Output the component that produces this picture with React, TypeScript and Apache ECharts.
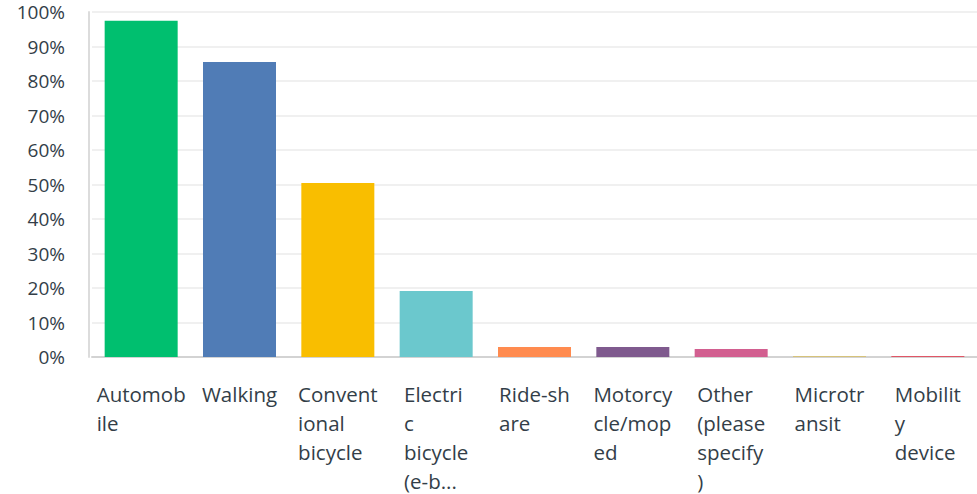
import React, { useEffect, useRef } from "react";
import * as echarts from "echarts";

const categories = [
  "Automobile",
  "Walking",
  "Conventional bicycle",
  "Electric bicycle (e-bike)",
  "Ride-share",
  "Motorcycle/moped",
  "Other (please specify)",
  "Microtransit",
  "Mobility device",
];
const tickLabels = [
  "Automob\nile",
  "Walking",
  "Convent\nional\nbicycle",
  "Electri\nc\nbicycle\n(e-b...",
  "Ride-sh\nare",
  "Motorcy\ncle/mop\ned",
  "Other\n(please\nspecify\n)",
  "Microtr\nansit",
  "Mobilit\ny\ndevice",
];
const values = [97.5, 85.5, 50.4, 19.1, 2.9, 2.9, 2.3, 0.3, 0.3];
const colors = [
  "#00bf6f",
  "#507cb6",
  "#f9be00",
  "#6bc8cd",
  "#ff8b4f",
  "#7f5a8e",
  "#d25f90",
  "#d6c27a",
  "#e05666",
];
const yTicks = [0, 10, 20, 30, 40, 50, 60, 70, 80, 90, 100];

export default function App() {
  const ref = useRef<HTMLDivElement>(null);
  useEffect(() => {
    if (!ref.current) return;
    const chart = echarts.init(ref.current, null, { renderer: "svg" });
    const font = "'Open Sans', sans-serif";
    chart.setOption({
      animation: false,
      grid: { left: 92, right: -3, top: 12, bottom: 137, containLabel: false },
      xAxis: {
        type: "category",
        data: categories,
        axisTick: { show: false },
        axisLine: { lineStyle: { color: "#d3d3d3", width: 2 } },
        axisLabel: {
          interval: 0,
          margin: 22,
          align: "center",
          formatter: (_v: string, i: number) => "{a|" + tickLabels[i] + "}",
          rich: {
            a: {
              align: "left",
              fontSize: 20.5,
              lineHeight: 29,
              color: "#333e48",
              fontFamily: font,
            },
          },
        },
      },
      yAxis: {
        type: "value",
        min: yTicks[0],
        max: yTicks[yTicks.length - 1],
        interval: 10,
        offset: 3,
        axisLine: { show: true, lineStyle: { color: "#dcdcdc", width: 2 } },
        axisTick: { show: false },
        splitLine: { lineStyle: { color: "#ebebeb", width: 1.5 } },
        axisLabel: {
          formatter: "{value}%",
          fontSize: 19,
          color: "#333e48",
          fontFamily: font,
          margin: 24,
        },
      },
      series: [
        {
          type: "bar",
          barWidth: 73,
          data: values.map((v, i) => ({ value: v, itemStyle: { color: colors[i] } })),
        },
      ],
    });
    return () => chart.dispose();
  }, []);
  return (
    <div
      ref={ref}
      style={{ position: "fixed", left: 0, top: 0, width: 977, height: 494, background: "#fff" }}
    />
  );
}
